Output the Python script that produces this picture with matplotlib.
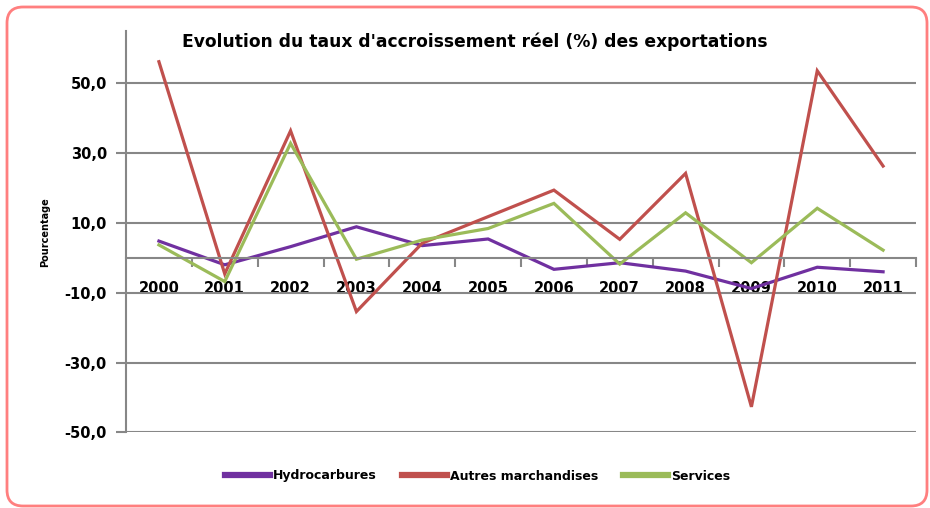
import matplotlib
matplotlib.use("Agg")
import matplotlib.pyplot as plt
from matplotlib.patches import FancyBboxPatch
from matplotlib.transforms import IdentityTransform
from matplotlib.ticker import FixedLocator

years = ["2000", "2001", "2002", "2003", "2004", "2005",
         "2006", "2007", "2008", "2009", "2010", "2011"]
hydrocarbures = [4.8, -2.0, 3.2, 8.9, 3.5, 5.4, -3.3, -1.4, -3.8, -8.8, -2.7, -4.0]
autres_marchandises = [56.2, -4.6, 36.4, -15.4, 4.2, 11.8, 19.4, 5.3, 24.2, -42.7, 53.6, 26.3]
services = [3.7, -6.8, 32.8, -0.4, 5.1, 8.4, 15.6, -1.8, 12.9, -1.4, 14.2, 2.2]
y_ticks = [-50, -30, -10, 10, 30, 50]

GRID = "#878787"
PURPLE = "#7030A0"
RED = "#C0504D"
GREEN = "#9BBB59"

fig = plt.figure(figsize=(9.30, 5.08), dpi=100)
ax = fig.add_axes([126 / 930, (508 - 432.3) / 508, (916 - 126) / 930, (432.3 - 31) / 508])

x = list(range(len(years)))
ax.plot(x, hydrocarbures, color=PURPLE, lw=2.3, label="Hydrocarbures", solid_joinstyle="miter")
ax.plot(x, autres_marchandises, color=RED, lw=2.3, label="Autres marchandises", solid_joinstyle="miter")
ax.plot(x, services, color=GREEN, lw=2.3, label="Services", solid_joinstyle="miter")

ax.set_xlim(-0.5, len(years) - 0.5)
ax.set_ylim(-50, 65)

# y axis: grid and labels
ax.yaxis.set_major_locator(FixedLocator(y_ticks))
ax.set_yticklabels([f"{v:.1f}".replace(".", ",") for v in y_ticks],
                   fontsize=10.5, fontweight="bold")
ax.tick_params(axis="y", length=7.2, width=1.5, color=GRID, pad=6.5)
ax.grid(axis="y", color=GRID, lw=1.5)

# x axis sits on the zero line
ax.spines["bottom"].set_position(("data", 0))
ax.spines["bottom"].set_color(GRID)
ax.spines["bottom"].set_linewidth(1.5)
ax.spines["left"].set_color(GRID)
ax.spines["left"].set_linewidth(1.5)
ax.spines["top"].set_visible(False)
ax.spines["right"].set_visible(False)
ax.set_xticks(x)
ax.set_xticklabels(years, fontsize=10.5, fontweight="bold")
ax.xaxis.set_minor_locator(FixedLocator([i + 0.5 for i in x]))
ax.tick_params(axis="x", which="major", length=0, pad=17)
ax.tick_params(axis="x", which="minor", length=6.5, width=1.5, color=GRID, direction="out")

fig.text(45 / 930, 1 - 232 / 508, "Pourcentage", rotation=90, fontsize=7,
         fontweight="bold", ha="center", va="center")

fig.text(475 / 930, 1 - 42 / 508,
         "Evolution du taux d'accroissement réel (%) des exportations",
         fontsize=12.3, fontweight="bold", ha="center", va="center")

fig.legend(loc="center", bbox_to_anchor=(477.5 / 930, 1 - 476 / 508), ncol=3,
           frameon=False, prop={"size": 9, "weight": "bold"},
           handlelength=3.6, handletextpad=0.25, columnspacing=2.0)
for line in fig.legends[0].get_lines():
    line.set_linewidth(4.5)

border = FancyBboxPatch((7, 2), 920, 499, boxstyle="round,pad=0,rounding_size=16",
                        transform=IdentityTransform(), fill=False,
                        edgecolor="#FF7F7F", lw=2)
fig.patches.append(border)

fig.savefig("out.png", dpi=100)
